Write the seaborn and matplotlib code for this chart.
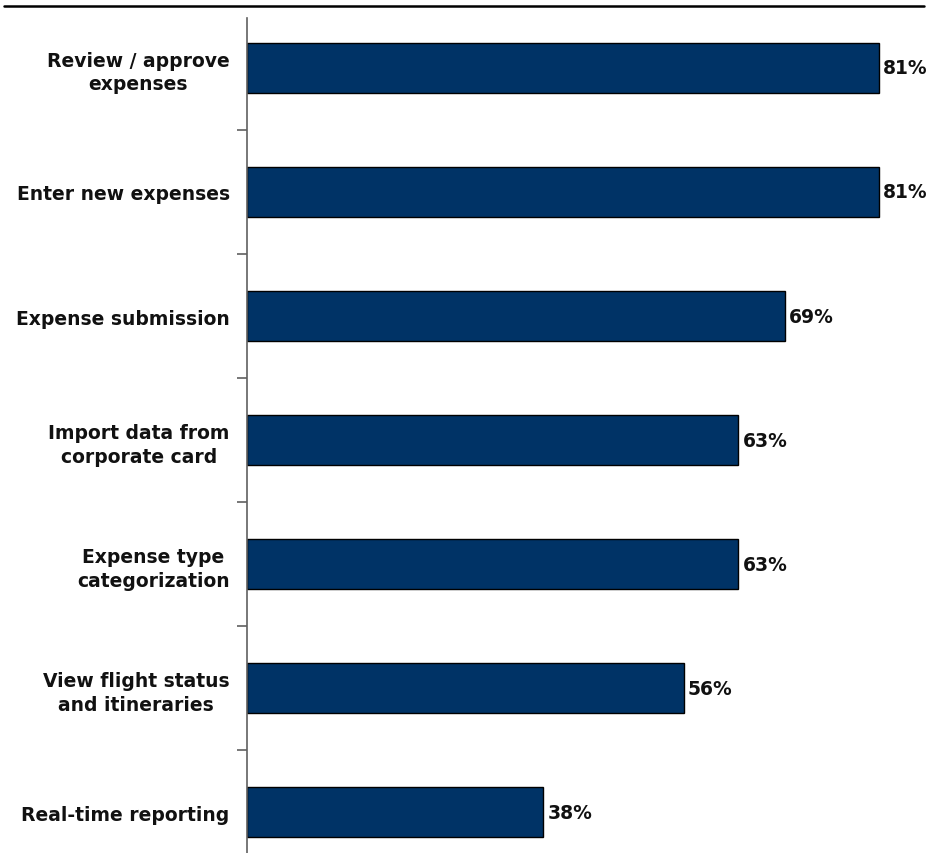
import matplotlib
matplotlib.use("Agg")
import matplotlib.pyplot as plt
from matplotlib.lines import Line2D
from matplotlib.ticker import FixedLocator
import pandas as pd
import seaborn as sns

# Share of respondents using each mobile expense feature
features = [
    "Review / approve\nexpenses",
    "Enter new expenses",
    "Expense submission",
    "Import data from\ncorporate card",
    "Expense type\ncategorization",
    "View flight status\nand itineraries",
    "Real-time reporting",
]
shares = [81, 81, 69, 63, 63, 56, 38]
value_labels = ["81%", "81%", "69%", "63%", "63%", "56%", "38%"]

BAR_COLOR = "#003366"
AXIS_GREY = "#606060"
TEXT_FONT = ["DejaVu Sans"]
TEXT_SIZE = 13.5

df = pd.DataFrame({"feature": features, "share": shares})

sns.set_theme(style="white")
plt.rcParams["font.family"] = TEXT_FONT

W, H, DPI = 930, 854, 100
fig = plt.figure(figsize=(W / DPI, H / DPI), dpi=DPI)
ax_left, ax_top = 247, 19
ax = fig.add_axes([ax_left / W, 0, (W - ax_left - 3) / W, (H - ax_top) / H])

sns.barplot(
    data=df, x="share", y="feature", orient="h", ax=ax,
    color=BAR_COLOR, saturation=1, width=0.403,
    edgecolor="black", linewidth=1.0,
)

ax.set_xlim(0, (W - ax_left - 3) / 7.80)
ax.set_ylim(6.33, -0.403)
ax.set_xlabel("")
ax.set_ylabel("")
ax.set_xticks([])

# Bold percentage labels just past each bar end
for cont in ax.containers:
    ax.bar_label(cont, labels=value_labels, padding=3,
                 fontsize=TEXT_SIZE, fontweight="bold", color="#111111")

# Category labels: right-aligned block, centred lines
ax.tick_params(axis="y", which="major", length=0, pad=12.5)
for lbl in ax.get_yticklabels():
    lbl.set_fontsize(TEXT_SIZE)
    lbl.set_fontweight("bold")
    lbl.set_color("#111111")
    lbl.set_multialignment("center")
    lbl.set_linespacing(1.3)

# Small separator ticks between categories
ax.yaxis.set_minor_locator(FixedLocator([i + 0.5 for i in range(len(features) - 1)]))
ax.tick_params(axis="y", which="minor", length=7, width=1.2,
               color=AXIS_GREY, direction="out", left=True)

for side in ("top", "right", "bottom"):
    ax.spines[side].set_visible(False)
ax.spines["left"].set_color(AXIS_GREY)
ax.spines["left"].set_linewidth(1.2)

# Rule across the top of the figure
fig.add_artist(Line2D([4 / W, 924 / W], [1 - 7 / H, 1 - 7 / H],
                      transform=fig.transFigure, color="black", linewidth=1.8))

fig.savefig("out.png", dpi=DPI)
